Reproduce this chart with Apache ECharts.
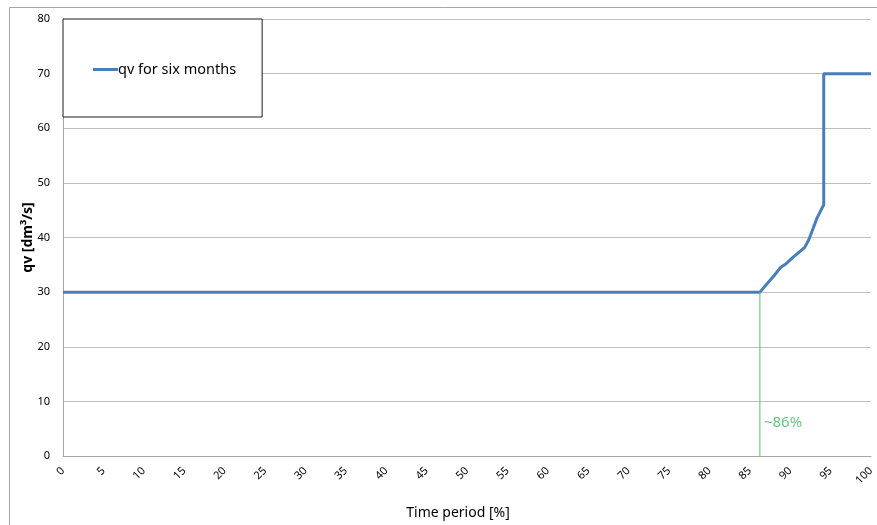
<!DOCTYPE html>
<html>
<head>
<meta charset="utf-8">
<script src="https://cdn.jsdelivr.net/npm/echarts@6/dist/echarts.min.js"></script>
<style>
html,body{margin:0;padding:0;background:#fff;}
#chart{width:877px;height:525px;}
</style>
</head>
<body>
<div id="chart"></div>
<script>
// Data
const seriesName = 'qv for six months';
const timePercent = [0, 86.25, 87.0, 88.0, 88.8, 89.5, 90.3, 91.0, 91.8, 92.3, 92.8, 93.3, 94.15, 94.15, 100];
const qvValues    = [30, 30.0, 31.3, 33.0, 34.5, 35.2, 36.3, 37.2, 38.2, 39.6, 41.5, 43.5, 46.0, 70, 70];
const markerX = [86.25, 86.25];
const markerY = [0, 30];
const markerLabelPoint = [86.25, 6.0];
const markerLabel = '~86%';
const xTicks = {min: 0, max: 100, interval: 5};
const yTicks = {min: 0, max: 80, interval: 10};
const xAxisTitle = 'Time period [%]';
const yAxisTitle = 'qv [dm³/s]';

const font = '"Noto Sans", sans-serif';
const chart = echarts.init(document.getElementById('chart'), null, {renderer: 'canvas'});
chart.setOption({
  animation: false,
  backgroundColor: '#fff',
  graphic: [{
    type: 'rect', left: 7, top: 5, silent: true,
    shape: {width: 900, height: 560},
    style: {fill: 'none', stroke: '#a6a6a6', lineWidth: 1}
  }],
  grid: {left: 63, right: 4, top: 19, bottom: 67, containLabel: false},
  legend: {
    data: [seriesName],
    left: 63, top: 19,
    orient: 'vertical',
    icon: 'path://M0,0 L25,0 L25,3 L0,3 Z',
    itemWidth: 25, itemHeight: 3, itemGap: 0,
    padding: [42, 26, 39, 30],
    borderColor: '#1a1a1a', borderWidth: 1,
    backgroundColor: '#fff',
    textStyle: {fontFamily: font, fontSize: 14.5, color: '#000', padding: [0,0,0,-5], lineHeight: 17}
  },
  xAxis: {
    type: 'value', min: xTicks.min, max: xTicks.max, interval: xTicks.interval,
    name: xAxisTitle, nameLocation: 'middle', nameGap: 50,
    nameTextStyle: {fontFamily: font, fontSize: 14, color: '#000', padding: [0, 18, 0, 0]},
    axisLine: {show: true, lineStyle: {color: '#a6a6a6', width: 1}},
    axisTick: {show: false},
    splitLine: {show: false},
    axisLabel: {rotate: 45, margin: 13, fontFamily: font, fontSize: 11, color: '#000'}
  },
  yAxis: {
    type: 'value', min: yTicks.min, max: yTicks.max, interval: yTicks.interval,
    name: yAxisTitle, nameLocation: 'middle', nameGap: 28, nameMoveOverlap: false,
    nameTextStyle: {fontFamily: font, fontSize: 14, fontWeight: 'bold', color: '#000'},
    axisLine: {show: true, lineStyle: {color: '#a6a6a6', width: 1}},
    axisTick: {show: false},
    splitLine: {show: true, lineStyle: {color: '#bfbfbf', width: 1}},
    axisLabel: {margin: 13, fontFamily: font, fontSize: 11, color: '#000'}
  },
  series: [
    {
      type: 'line', name: 'marker', z: 4,
      data: markerX.map((x, i) => [x, markerY[i]]),
      symbol: 'none',
      color: '#4cc46c',
      lineStyle: {color: '#4cc46c', width: 1},
      itemStyle: {color: '#4cc46c'},
      silent: true
    },
    {
      type: 'scatter', name: 'markerLabel', z: 3,
      data: [markerLabelPoint],
      symbolSize: 0,
      label: {show: true, position: 'right', distance: 4, formatter: markerLabel,
        fontFamily: font, fontSize: 15, color: '#3cb95a'},
      silent: true
    },
    {
      type: 'line', name: seriesName, z: 2,
      data: timePercent.map((x, i) => [x, qvValues[i]]),
      symbol: 'none',
      lineStyle: {color: '#4a7ebb', width: 3},
      itemStyle: {color: '#4a7ebb'}
    }
  ]
});
</script>
</body>
</html>
